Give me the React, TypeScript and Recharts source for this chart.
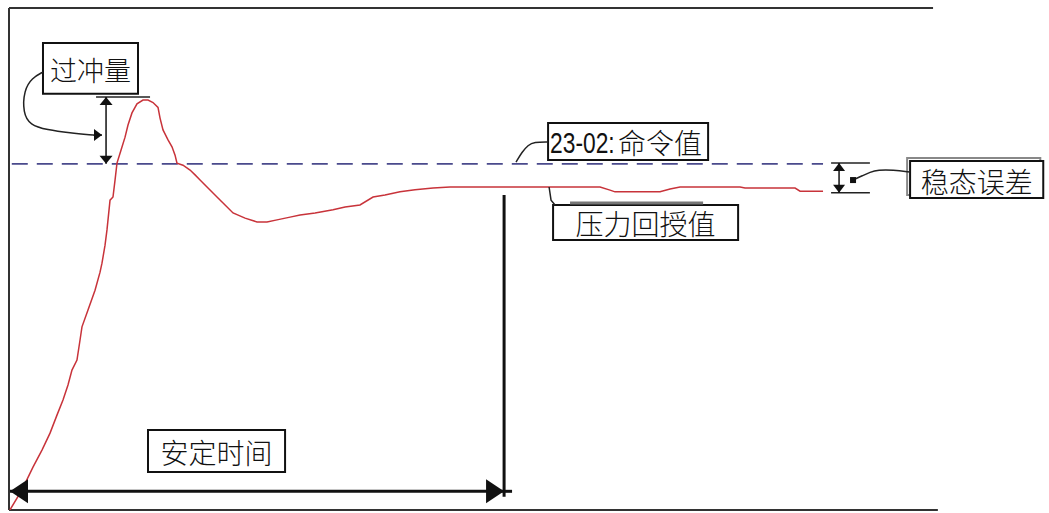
import React from "react";
import {
  ComposedChart,
  Line,
  XAxis,
  YAxis,
  ReferenceLine,
  ReferenceArea,
  ReferenceDot,
} from "recharts";

// ---- response curve (time in ms, pressure in % of command) ----
const TIME = [
  1, 14, 25.9, 35.6, 44.3, 51.8, 58.3, 63.7, 68, 73.4, 76.7, 78.8, 85.3, 92.9,
  98.3, 100.4, 103.7, 105.8, 109.1, 112.3, 114.5, 116.6, 121, 125.3, 128.5,
  132.8, 138.2, 144.7, 150.1, 155.5, 160.9, 163.1, 166.3, 171.7, 176, 179.3,
  181.4, 187.9, 195.5, 200.9, 206.3, 214.9, 224.6, 233.3, 241.9, 254.9, 267.8,
  278.6, 289.4, 303.5, 314.3, 330.5, 349.9, 362.9, 379, 393.1, 406, 422.2,
  438.4, 457.9, 476.2, 530.2, 584.2, 638.2, 649, 654.4, 703, 713.8, 724.6,
  789.4, 794.8, 848.8, 854.2, 879,
];
const PRESSURE = [
  0, 5.8, 12.4, 17.3, 22.2, 27.4, 31.8, 36.1, 40.4, 43.3, 49.1, 52.9, 57.8,
  63.5, 68.7, 71.3, 76.5, 80.9, 89.5, 90.4, 95.3, 100.2, 104, 107.7, 111.2,
  114.7, 117.3, 118.4, 118.4, 117.7, 116.3, 113.2, 109.8, 106.9, 104.9, 102.5,
  100.2, 99.6, 98.2, 96.8, 95.3, 93, 90.4, 88.1, 85.8, 84.3, 83.2, 83.2, 83.8,
  84.6, 85.2, 85.8, 86.7, 87.5, 88.1, 90.4, 91, 91.9, 92.5, 93, 93.3, 93.3,
  93.3, 93.3, 92.4, 91.9, 91.9, 92.7, 93.3, 93.3, 93, 93, 92.1, 92.1,
];
const COMMAND = 100;
const COMMAND_START = 3;
const COMMAND_END = 879;

// ---- frame ----
const T_FRAME_TOP_END = 997.8;
const T_FRAME_BOTTOM_END = 1003;
const X_DOMAIN: [number, number] = [0, 1123];
const Y_DOMAIN: [number, number] = [0, 145];

// ---- overshoot annotation ----
const LABEL_OVERSHOOT = "过冲量";
const OVERSHOOT_T = 104.8;
const OVERSHOOT_TOP = 119.3;
const OVERSHOOT_TICK_T: [number, number] = [94, 152.3];
const OVERSHOOT_BOX_T: [number, number] = [36.7, 139.3];
const OVERSHOOT_BOX_V: [number, number] = [120.2, 134.9];
const OVERSHOOT_LINK_T = [36.7, 24.8, 16.2, 15.1, 22.7, 41, 65.9, 90.7];
const OVERSHOOT_LINK_V = [126.5, 124.8, 121.3, 114.7, 111.2, 109.8, 108.9, 108.3];
const OVERSHOOT_LINK_TIP_T = 100.4;

// ---- command annotation ----
const LABEL_COMMAND_CODE = "23-02:";
const LABEL_COMMAND = "命令值";
const COMMAND_BOX_T: [number, number] = [582.1, 754.9];
const COMMAND_BOX_V: [number, number] = [101.1, 111.8];
const COMMAND_LINK_T = [547.5, 554, 560.5, 567, 582.1];
const COMMAND_LINK_V = [100.5, 103.4, 105.4, 106.3, 106.3];

// ---- feedback annotation ----
const LABEL_FEEDBACK = "压力回授值";
const FEEDBACK_BOX_T: [number, number] = [587.5, 787.3];
const FEEDBACK_BOX_V: [number, number] = [78, 88.1];
const FEEDBACK_SHADOW_T: [number, number] = [605.8, 749.5];
const FEEDBACK_SHADOW_V = 88.7;
const FEEDBACK_LINK_T = [583.2, 585.3, 589.6];
const FEEDBACK_LINK_V = [93.3, 89.5, 88.1];

// ---- steady-state error annotation ----
const LABEL_STEADY = "稳态误差";
const STEADY_T = 896.3;
const STEADY_TOP = 100.2;
const STEADY_BOTTOM = 91.6;
const STEADY_TICK_T: [number, number] = [887.7, 929.6];
const STEADY_BOX_T: [number, number] = [973, 1116.8];
const STEADY_BOX_V: [number, number] = [90.1, 100.8];
const STEADY_LINK_T = [973, 954.6, 938.4, 929.8, 921.2, 913.6];
const STEADY_LINK_V = [97.6, 98.2, 98.2, 97.6, 96.5, 95.6];
const STEADY_DOT = { t: 911.4, v: 95.3 };

// ---- settling-time annotation ----
const LABEL_SETTLING = "安定时间";
const SETTLING_V = 5.4;
const SETTLING_START = 1.1;
const SETTLING_END = 534.6;
const SETTLING_STUB_END = 543.2;
const SETTLING_MARK_TOP = 91;
const SETTLING_MARK_BOTTOM = 3.8;
const SETTLING_BOX_T: [number, number] = [150.1, 298.1];
const SETTLING_BOX_V: [number, number] = [11, 23.1];

const curveData = TIME.map((t, i) => ({ t, v: PRESSURE[i] }));
const toPoints = (ts: number[], vs: number[]) => ts.map((t, i) => ({ t, v: vs[i] }));

const CJK = "'Noto Sans CJK SC', 'Noto Sans', sans-serif";
const SANS = "'Liberation Sans', Arial, sans-serif";

function head(x: number, y: number, dx: number, dy: number, len: number, half: number) {
  const bx = x - dx * len;
  const by = y - dy * len;
  const px = -dy;
  const py = dx;
  return `${x},${y} ${bx + px * half},${by + py * half} ${bx - px * half},${by - py * half}`;
}

function arrowShape(opts: { start?: boolean; end?: boolean; len: number; half: number; width: number }) {
  return (props: any) => {
    const { x1, y1, x2, y2 } = props;
    const L = Math.hypot(x2 - x1, y2 - y1) || 1;
    const dx = (x2 - x1) / L;
    const dy = (y2 - y1) / L;
    return (
      <g>
        <line x1={x1} y1={y1} x2={x2} y2={y2} stroke="#111" strokeWidth={opts.width} />
        {opts.start && <polygon points={head(x1, y1, -dx, -dy, opts.len, opts.half)} fill="#111" />}
        {opts.end && <polygon points={head(x2, y2, dx, dy, opts.len, opts.half)} fill="#111" />}
      </g>
    );
  };
}

function BoxText(props: any) {
  const { viewBox, text, size } = props;
  if (!viewBox) return null;
  const { x, y, width, height } = viewBox;
  return (
    <text
      x={x + width / 2}
      y={y + height / 2 + 1}
      textAnchor="middle"
      dominantBaseline="central"
      fontSize={size}
      fontFamily={CJK}
      fontWeight={300}
      fill="#111"
    >
      {text}
    </text>
  );
}

function CommandText(props: any) {
  const { viewBox } = props;
  if (!viewBox) return null;
  const { x, y, height } = viewBox;
  const cy = y + height / 2 + 1;
  return (
    <g fill="#111">
      <text
        transform={`translate(${x + 2},${cy}) scale(0.76,1)`}
        x={0}
        y={0}
        dominantBaseline="central"
        fontSize={30}
        fontFamily={SANS}
      >
        {LABEL_COMMAND_CODE}
      </text>
      <text x={x + 70} y={cy} dominantBaseline="central" fontSize={28} fontFamily={CJK} fontWeight={300}>
        {LABEL_COMMAND}
      </text>
    </g>
  );
}

const SquareDot = (props: any) => (
  <rect x={props.cx - 3} y={props.cy - 3} width={6} height={6} fill="#111" />
);

export default function App() {
  const frame = { stroke: "#333", strokeWidth: 2 };
  return (
    <div style={{ position: "absolute", left: 0, top: 0, width: 1049, height: 513, background: "#fff" }}>
      <ComposedChart width={1049} height={513} data={curveData} margin={{ top: 8, right: 0, bottom: 3, left: 9 }}>
        <XAxis dataKey="t" type="number" domain={X_DOMAIN} allowDataOverflow hide />
        <YAxis type="number" domain={Y_DOMAIN} allowDataOverflow hide />

        {/* frame */}
        <ReferenceLine segment={[{ x: 0, y: Y_DOMAIN[1] }, { x: T_FRAME_TOP_END, y: Y_DOMAIN[1] }]} {...frame} ifOverflow="visible" />
        <ReferenceLine segment={[{ x: 0, y: 0 }, { x: T_FRAME_BOTTOM_END, y: 0 }]} {...frame} ifOverflow="visible" />
        <ReferenceLine segment={[{ x: 0, y: 0 }, { x: 0, y: Y_DOMAIN[1] }]} {...frame} ifOverflow="visible" />

        {/* command value */}
        <ReferenceLine
          segment={[{ x: COMMAND_START, y: COMMAND }, { x: COMMAND_END, y: COMMAND }]}
          stroke="#4a4a8c"
          strokeWidth={1.8}
          strokeDasharray="16 9"
        />

        {/* response */}
        <Line
          dataKey="v"
          type="linear"
          stroke="#c8333a"
          strokeWidth={1.5}
          dot={false}
          isAnimationActive={false}
        />

        {/* overshoot */}
        <ReferenceLine
          segment={[{ x: OVERSHOOT_TICK_T[0], y: OVERSHOOT_TOP }, { x: OVERSHOOT_TICK_T[1], y: OVERSHOOT_TOP }]}
          stroke="#222"
          strokeWidth={1.5}
        />
        <ReferenceLine
          segment={[{ x: OVERSHOOT_T, y: OVERSHOOT_TOP }, { x: OVERSHOOT_T, y: COMMAND }]}
          shape={arrowShape({ start: true, end: true, len: 8, half: 6.5, width: 1.5 })}
        />
        <Line
          data={toPoints(OVERSHOOT_LINK_T, OVERSHOOT_LINK_V)}
          dataKey="v"
          type="basis"
          stroke="#222"
          strokeWidth={1.5}
          dot={false}
          isAnimationActive={false}
        />
        <ReferenceLine
          segment={[
            { x: OVERSHOOT_LINK_T[OVERSHOOT_LINK_T.length - 1], y: OVERSHOOT_LINK_V[OVERSHOOT_LINK_V.length - 1] },
            { x: OVERSHOOT_LINK_TIP_T, y: OVERSHOOT_LINK_V[OVERSHOOT_LINK_V.length - 1] },
          ]}
          shape={arrowShape({ end: true, len: 8, half: 6, width: 1.5 })}
        />
        <ReferenceArea
          x1={OVERSHOOT_BOX_T[0]}
          x2={OVERSHOOT_BOX_T[1]}
          y1={OVERSHOOT_BOX_V[0]}
          y2={OVERSHOOT_BOX_V[1]}
          fill="#fff"
          fillOpacity={1}
          stroke="#111"
          strokeWidth={2}
          label={<BoxText text={LABEL_OVERSHOOT} size={27} />}
        />

        {/* command label */}
        <Line
          data={toPoints(COMMAND_LINK_T, COMMAND_LINK_V)}
          dataKey="v"
          type="basis"
          stroke="#222"
          strokeWidth={1.5}
          dot={false}
          isAnimationActive={false}
        />
        <ReferenceArea
          x1={COMMAND_BOX_T[0]}
          x2={COMMAND_BOX_T[1]}
          y1={COMMAND_BOX_V[0]}
          y2={COMMAND_BOX_V[1]}
          fill="#fff"
          fillOpacity={1}
          stroke="#111"
          strokeWidth={2}
          label={<CommandText />}
        />

        {/* feedback label */}
        <Line
          data={toPoints(FEEDBACK_LINK_T, FEEDBACK_LINK_V)}
          dataKey="v"
          type="linear"
          stroke="#222"
          strokeWidth={1.5}
          dot={false}
          isAnimationActive={false}
        />
        <ReferenceLine
          segment={[{ x: FEEDBACK_SHADOW_T[0], y: FEEDBACK_SHADOW_V }, { x: FEEDBACK_SHADOW_T[1], y: FEEDBACK_SHADOW_V }]}
          stroke="#777"
          strokeWidth={3}
        />
        <ReferenceArea
          x1={FEEDBACK_BOX_T[0]}
          x2={FEEDBACK_BOX_T[1]}
          y1={FEEDBACK_BOX_V[0]}
          y2={FEEDBACK_BOX_V[1]}
          fill="#fff"
          fillOpacity={1}
          stroke="#111"
          strokeWidth={2}
          label={<BoxText text={LABEL_FEEDBACK} size={28} />}
        />

        {/* steady-state error */}
        <ReferenceLine
          segment={[{ x: STEADY_TICK_T[0], y: STEADY_TOP }, { x: STEADY_TICK_T[1], y: STEADY_TOP }]}
          stroke="#222"
          strokeWidth={1.5}
        />
        <ReferenceLine
          segment={[{ x: STEADY_TICK_T[0], y: STEADY_BOTTOM }, { x: STEADY_TICK_T[1], y: STEADY_BOTTOM }]}
          stroke="#222"
          strokeWidth={1.5}
        />
        <ReferenceLine
          segment={[{ x: STEADY_T, y: STEADY_TOP }, { x: STEADY_T, y: STEADY_BOTTOM }]}
          shape={arrowShape({ start: true, end: true, len: 8, half: 6, width: 1.5 })}
        />
        <Line
          data={toPoints(STEADY_LINK_T, STEADY_LINK_V)}
          dataKey="v"
          type="basis"
          stroke="#222"
          strokeWidth={1.5}
          dot={false}
          isAnimationActive={false}
        />
        <ReferenceDot x={STEADY_DOT.t} y={STEADY_DOT.v} r={3} shape={SquareDot} />
        <ReferenceArea
          x1={STEADY_BOX_T[0] - 3.2}
          x2={STEADY_BOX_T[1] - 3.2}
          y1={STEADY_BOX_V[0] + 0.9}
          y2={STEADY_BOX_V[1] + 0.9}
          fill="none"
          stroke="#888"
          strokeWidth={2}
        />
        <ReferenceArea
          x1={STEADY_BOX_T[0]}
          x2={STEADY_BOX_T[1]}
          y1={STEADY_BOX_V[0]}
          y2={STEADY_BOX_V[1]}
          fill="#fff"
          fillOpacity={1}
          stroke="#111"
          strokeWidth={2}
          label={<BoxText text={LABEL_STEADY} size={28} />}
        />

        {/* settling time */}
        <ReferenceLine
          segment={[{ x: SETTLING_END, y: SETTLING_MARK_TOP }, { x: SETTLING_END, y: SETTLING_MARK_BOTTOM }]}
          stroke="#111"
          strokeWidth={3}
        />
        <ReferenceLine
          segment={[{ x: SETTLING_START, y: SETTLING_V }, { x: SETTLING_END, y: SETTLING_V }]}
          shape={arrowShape({ start: true, end: true, len: 18, half: 12, width: 3 })}
        />
        <ReferenceLine
          segment={[{ x: SETTLING_END, y: SETTLING_V }, { x: SETTLING_STUB_END, y: SETTLING_V }]}
          stroke="#111"
          strokeWidth={3}
        />
        <ReferenceArea
          x1={SETTLING_BOX_T[0]}
          x2={SETTLING_BOX_T[1]}
          y1={SETTLING_BOX_V[0]}
          y2={SETTLING_BOX_V[1]}
          fill="#fff"
          fillOpacity={1}
          stroke="#111"
          strokeWidth={2}
          label={<BoxText text={LABEL_SETTLING} size={28} />}
        />
      </ComposedChart>
    </div>
  );
}
